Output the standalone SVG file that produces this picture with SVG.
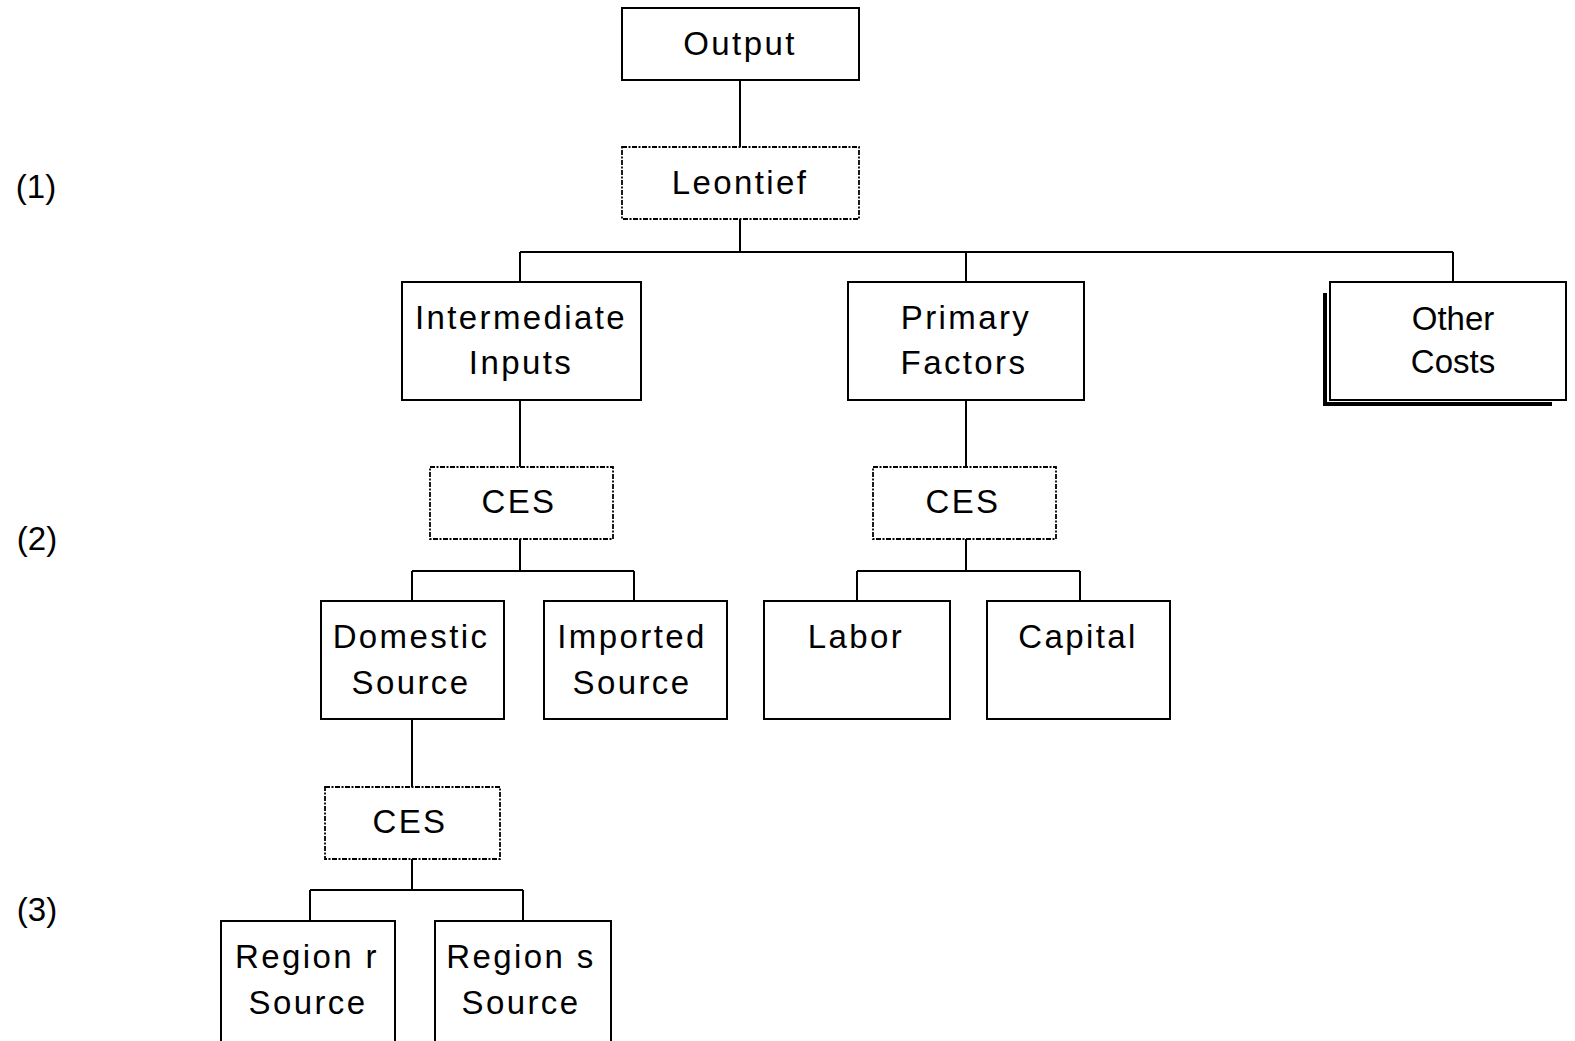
<svg xmlns="http://www.w3.org/2000/svg" width="1575" height="1041" viewBox="0 0 1575 1041">
<style>
.box{fill:#fff;stroke:#000;stroke-width:2}
.dash{fill:#fff;stroke:#000;stroke-width:1.8;stroke-dasharray:5 1.5 2 1.5}
.t{font-family:"Liberation Sans",Arial,sans-serif;font-size:33px;fill:#000;text-anchor:middle;letter-spacing:2.4px}
.n{font-family:"Liberation Sans",Arial,sans-serif;font-size:33px;fill:#000;text-anchor:middle}
.c{fill:none;stroke:#000;stroke-width:2}
</style>
<rect width="1575" height="1041" fill="#fff"/>
<g id="connectors">
<path class="c" d="M740 80V147M740 219V252M520 252H1453M520 252V282M966 252V282M1453 252V282"/>
<path class="c" d="M520 400V467M520 539V571M412 571H634M412 571V601M634 571V601"/>
<path class="c" d="M966 400V467M966 539V571M857 571H1080M857 571V601M1080 571V601"/>
<path class="c" d="M412 719V787M412 859V890M310 890H523M310 890V921M523 890V921"/>
</g>
<g id="output"><rect class="box" x="622" y="8" width="237" height="72"/><text class="t" x="740" y="55">Output</text></g>
<g id="leontief"><rect class="dash" x="622" y="147" width="237" height="72"/><text class="t" x="740" y="194">Leontief</text></g>
<g id="intermediate"><rect class="box" x="402" y="282" width="239" height="118"/><text class="t" x="521" y="329">Intermediate</text><text class="t" x="521" y="374">Inputs</text></g>
<g id="primary"><rect class="box" x="848" y="282" width="236" height="118"/><text class="t" x="966" y="329">Primary</text><text class="t" x="964" y="374">Factors</text></g>
<g id="other"><path d="M1325 293V405M1323 404H1552" fill="none" stroke="#000" stroke-width="4"/><rect class="box" x="1330" y="282" width="236" height="118"/><text class="n" x="1453" y="330">Other</text><text class="n" x="1453" y="373">Costs</text></g>
<g id="ces1"><rect class="dash" x="430" y="467" width="183" height="72"/><text class="t" x="519" y="513">CES</text></g>
<g id="ces2"><rect class="dash" x="873" y="467" width="183" height="72"/><text class="t" x="963" y="513">CES</text></g>
<g id="domestic"><rect class="box" x="321" y="601" width="183" height="118"/><text class="t" x="411" y="648">Domestic</text><text class="t" x="411" y="694">Source</text></g>
<g id="imported"><rect class="box" x="544" y="601" width="183" height="118"/><text class="t" x="632" y="648">Imported</text><text class="t" x="632" y="694">Source</text></g>
<g id="labor"><rect class="box" x="764" y="601" width="186" height="118"/><text class="t" x="856" y="648">Labor</text></g>
<g id="capital"><rect class="box" x="987" y="601" width="183" height="118"/><text class="t" x="1078" y="648">Capital</text></g>
<g id="ces3"><rect class="dash" x="325" y="787" width="175" height="72"/><text class="t" x="410" y="833">CES</text></g>
<g id="regionr"><rect class="box" x="221" y="921" width="174" height="130"/><text class="t" x="307" y="968">Region r</text><text class="t" x="308" y="1014">Source</text></g>
<g id="regions"><rect class="box" x="435" y="921" width="176" height="130"/><text class="t" x="521" y="968">Region s</text><text class="t" x="521" y="1014">Source</text></g>
<g id="levels">
<text class="n" x="36" y="198">(1)</text>
<text class="n" x="37" y="550">(2)</text>
<text class="n" x="37" y="921">(3)</text>
</g>
</svg>
